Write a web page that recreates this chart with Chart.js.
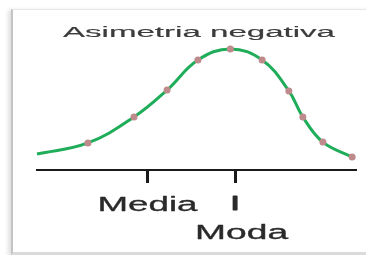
<!DOCTYPE html>
<html>
<head>
<meta charset="utf-8">
<script src="https://cdn.jsdelivr.net/npm/chart.js@4/dist/chart.umd.min.js"></script>
<style>
  html, body { margin: 0; padding: 0; background: #ffffff; }
  #wrap { position: relative; width: 366px; height: 255px; overflow: hidden; background: #fff; }
  #frame {
    position: absolute; left: 11px; top: 9px; width: 360px; height: 242px;
    border-left: 2px solid #c4c4c4; border-top: 1px solid #e8e8e8; border-bottom: 4px solid #dadada;
    box-shadow: -3px 1px 4px rgba(0,0,0,0.12);
    background: #fff;
  }
  #c { position: absolute; left: 0; top: 0; }
</style>
</head>
<body>
<div id="wrap">
  <div id="frame"></div>
  <canvas id="c" width="366" height="255"></canvas>
</div>
<script>
// ---- data ----
const chartTitle = 'Asimetria negativa';
const xValues = [0, 16.0, 30.5, 40.9, 50.6, 60.8, 70.8, 79.2, 83.6, 89.9, 99.1];
const yValues = [12.3, 20.8, 40.8, 61.5, 84.6, 93.1, 84.6, 60.8, 40.8, 21.5, 10.0];
const tickValues = [34.6, 62.3];
const tickLabels = ['Media', 'Moda'];

const FONT = '"Liberation Sans", Arial, sans-serif';

function stretchedText(ctx, text, cx, baseline, fontPx, scaleX, strokeW, color) {
  ctx.save();
  ctx.font = fontPx + 'px ' + FONT;
  ctx.translate(cx, baseline);
  ctx.scale(scaleX, 1);
  ctx.textAlign = 'center';
  ctx.textBaseline = 'alphabetic';
  ctx.fillStyle = color;
  ctx.fillText(text, 0, 0);
  if (strokeW) {
    ctx.strokeStyle = color;
    ctx.lineWidth = strokeW;
    ctx.lineJoin = 'round';
    ctx.strokeText(text, 0, 0);
  }
  ctx.restore();
}
function scaleFor(ctx, text, fontPx, width) {
  ctx.save();
  ctx.font = fontPx + 'px ' + FONT;
  const w = ctx.measureText(text).width;
  ctx.restore();
  return width / w;
}

const textPlugin = {
  id: 'stretchedTexts',
  afterDraw(chart) {
    const ctx = chart.ctx;
    const xs = chart.scales.x;
    // title
    const ts = scaleFor(ctx, chartTitle, 14, 272);
    stretchedText(ctx, chartTitle, 199, 37, 14, ts, 0.15, '#3c3c3c');
    // Media label
    const pMedia = xs.getPixelForValue(tickValues[0]);
    const sMedia = scaleFor(ctx, tickLabels[0], 19.5, 100);
    stretchedText(ctx, tickLabels[0], pMedia + 0.5, 211, 19.5, sMedia, 0.3, '#2a2a2a');
    // Moda label with the bar under its tick
    const pModa = xs.getPixelForValue(tickValues[1]);
    stretchedText(ctx, 'I', pModa, 210, 19.5, sMedia, 0.8, '#2a2a2a');
    const sModa = scaleFor(ctx, tickLabels[1], 19.5, 93);
    stretchedText(ctx, tickLabels[1], pModa + 6.5, 239, 19.5, sModa, 0.3, '#2a2a2a');
  }
};

new Chart(document.getElementById('c'), {
  type: 'line',
  data: {
    datasets: [{
      data: xValues.map((x, i) => ({ x: x, y: yValues[i] })),
      borderColor: '#1fad5a',
      borderWidth: 3,
      tension: 0.4,
      pointRadius: xValues.map((x, i) => i === 0 ? 0 : 3.5),
      pointBackgroundColor: '#bf8a8c',
      pointBorderWidth: 0,
      pointHoverRadius: 0,
      clip: false
    }]
  },
  options: {
    responsive: false,
    devicePixelRatio: 1,
    animation: false,
    events: [],
    layout: { padding: { left: 37, right: 11, top: 40, bottom: 72 } },
    plugins: { legend: { display: false }, tooltip: { enabled: false }, title: { display: false } },
    scales: {
      x: {
        type: 'linear', min: 0, max: 100,
        border: { display: true, color: '#1a1a1a', width: 2 },
        grid: { display: true, drawOnChartArea: false, drawTicks: true, tickLength: 13, color: '#1a1a1a', lineWidth: 3 },
        ticks: { display: false },
        afterBuildTicks: (axis) => { axis.ticks = tickValues.map(v => ({ value: v })); }
      },
      y: { type: 'linear', min: 0, max: 100, display: false }
    }
  },
  plugins: [textPlugin]
});
</script>
</body>
</html>
